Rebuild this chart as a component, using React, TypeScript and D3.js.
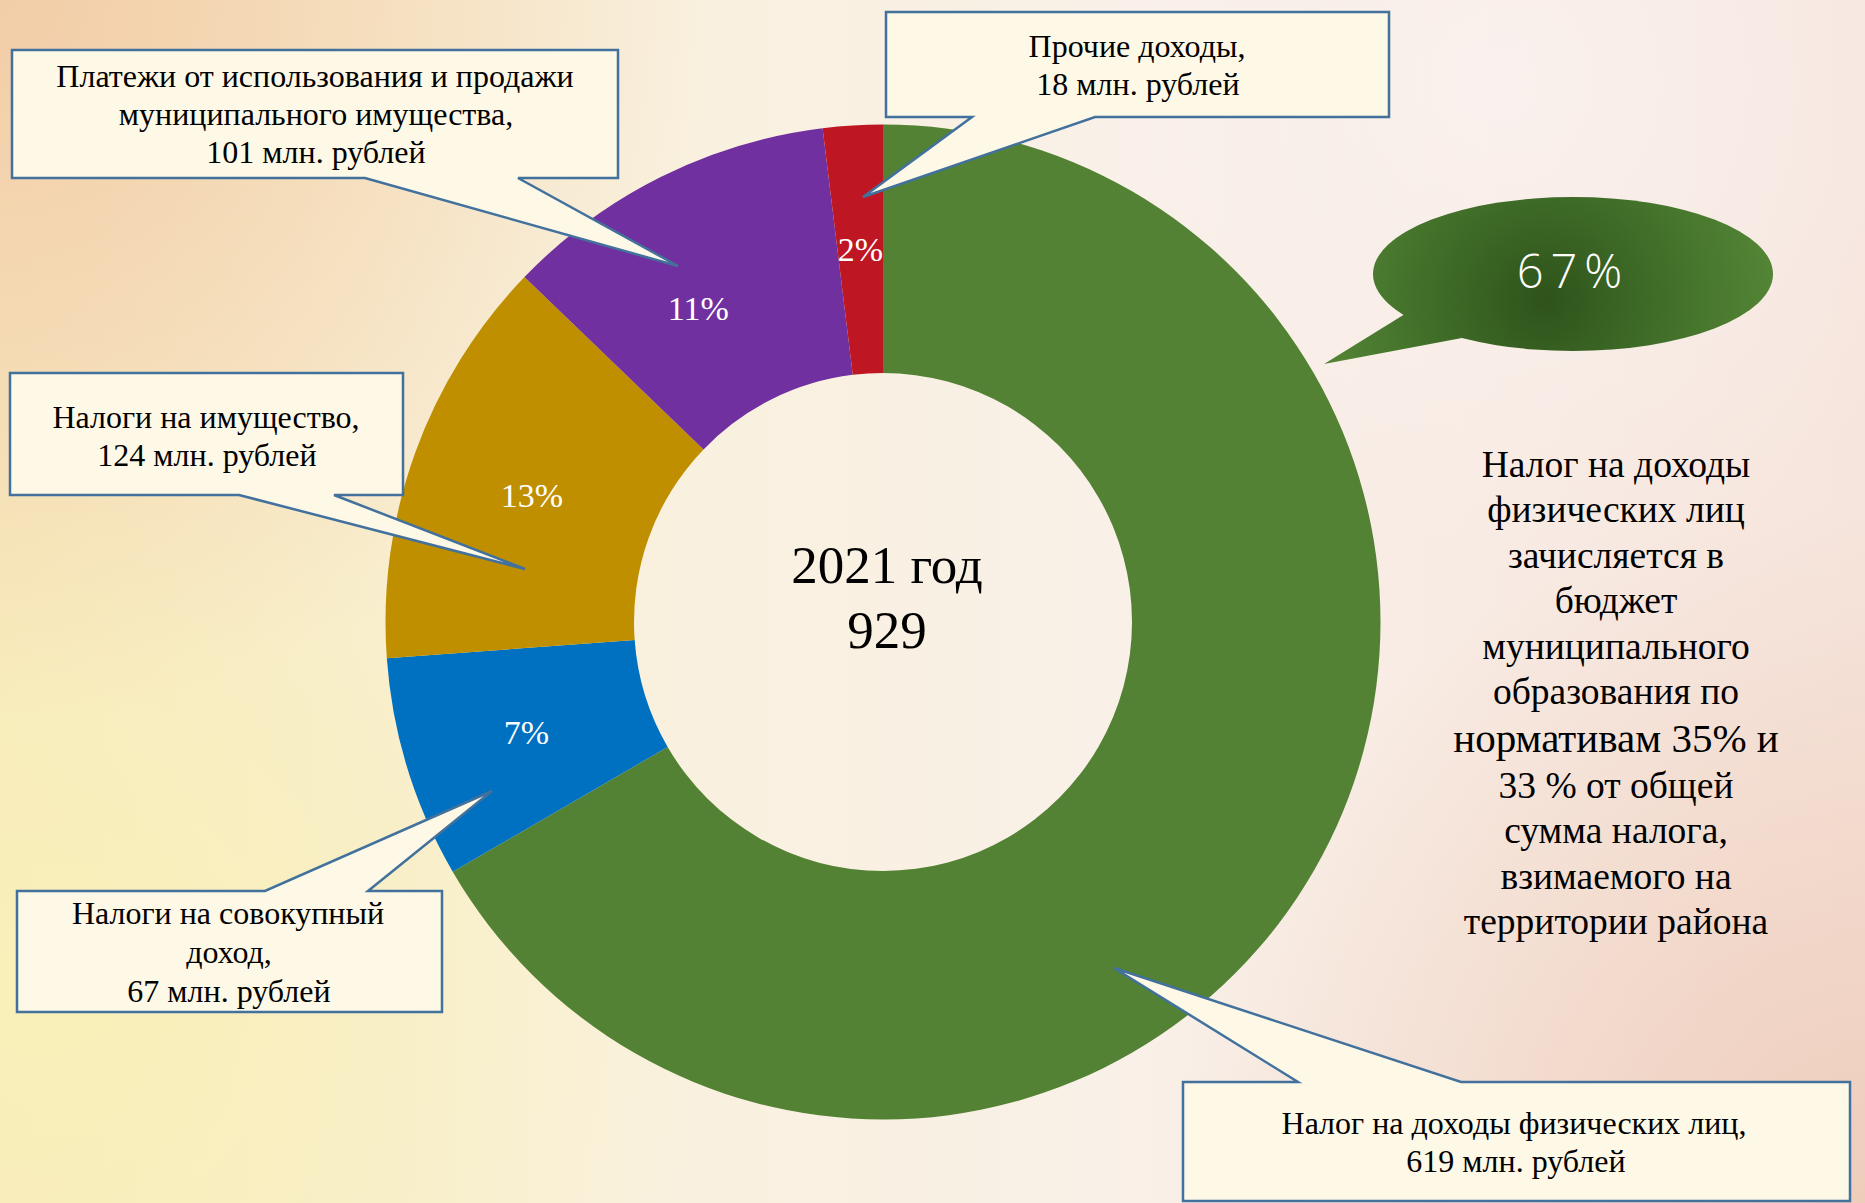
import React from "react";
import * as d3 from "d3";

// ---------- data ----------
const categories = [
  "Налог на доходы физических лиц",
  "Налоги на совокупный доход",
  "Налоги на имущество",
  "Платежи от использования и продажи муниципального имущества",
  "Прочие доходы",
];
const values = [619, 67, 124, 101, 18];
const sliceColors = ["#548235", "#0070C0", "#BF8F00", "#7030A0", "#BE1622"];
const centerTitle = "2021 год";
const centerTotal = "929";
const calloutTexts = [
  ["Налог на доходы физических лиц,", "619 млн. рублей"],
  ["Налоги на совокупный", "доход,", "67 млн. рублей"],
  ["Налоги на имущество,", "124 млн. рублей"],
  ["Платежи от использования и продажи", "муниципального имущества,", "101 млн. рублей"],
  ["Прочие доходы,", "18 млн. рублей"],
];
const bubbleText = "67%";
const noteLines = [
  "Налог на доходы",
  "физических лиц",
  "зачисляется в",
  "бюджет",
  "муниципального",
  "образования по",
  "нормативам 35% и",
  "33 % от общей",
  "сумма налога,",
  "взимаемого на",
  "территории района",
];

// ---------- layout ----------
const W = 1865;
const H = 1203;
const CX = 883;
const CY = 622;
const R_OUT = 497.5;
const R_IN = 249;

type Box = {
  x0: number; y0: number; x1: number; y1: number;
  side: "top" | "bottom";
  b1: number; b2: number; tip: [number, number];
  lines: { x: number; y: number }[];
};
const boxes: Box[] = [
  { x0: 1183, y0: 1082, x1: 1850, y1: 1201, side: "top", b1: 1298, b2: 1461, tip: [1114, 968],
    lines: [{ x: 1514, y: 1134 }, { x: 1516, y: 1172 }] },
  { x0: 17, y0: 891, x1: 442, y1: 1012, side: "top", b1: 265, b2: 368, tip: [492, 791],
    lines: [{ x: 228, y: 924 }, { x: 229, y: 963 }, { x: 229, y: 1002 }] },
  { x0: 10, y0: 373, x1: 403, y1: 495, side: "bottom", b1: 239, b2: 334, tip: [525, 569],
    lines: [{ x: 206, y: 428 }, { x: 207, y: 466 }] },
  { x0: 12, y0: 50, x1: 618, y1: 178, side: "bottom", b1: 365, b2: 518, tip: [678, 266],
    lines: [{ x: 315, y: 87 }, { x: 316, y: 125 }, { x: 316, y: 163 }] },
  { x0: 886, y0: 12, x1: 1389, y1: 117, side: "bottom", b1: 972, b2: 1095, tip: [863, 197],
    lines: [{ x: 1137, y: 57 }, { x: 1138, y: 95 }] },
];
const labelNudge: [number, number][] = [[0, 0], [0, 0], [0, 0], [-18, 20], [0, 0]];

function calloutPath(b: Box): string {
  const [tx, ty] = b.tip;
  if (b.side === "bottom") {
    return `M${b.x0},${b.y0}H${b.x1}V${b.y1}H${b.b2}L${tx},${ty}L${b.b1},${b.y1}H${b.x0}Z`;
  }
  return `M${b.x0},${b.y0}H${b.b1}L${tx},${ty}L${b.b2},${b.y0}H${b.x1}V${b.y1}H${b.x0}Z`;
}

export default function App() {
  const total = d3.sum(values);
  const pie = d3
    .pie<number>()
    .sort(null)
    .value((d) => d)
    .startAngle(0)
    .endAngle(2 * Math.PI);
  const arcs = pie(values);
  const arc = d3.arc<d3.PieArcDatum<number>>().innerRadius(R_IN).outerRadius(R_OUT);
  const pct = (v: number) => `${Math.round((v / total) * 100)}%`;

  const serif = "'Liberation Serif', 'Times New Roman', serif";
  const noteY0 = 477;
  const noteStep = 45.4;

  return (
    <svg
      width={W}
      height={H}
      viewBox={`0 0 ${W} ${H}`}
      style={{ position: "fixed", left: 0, top: 0, display: "block" }}
    >
      <defs>
        <linearGradient id="bgBase" x1="0" y1="0" x2="1" y2="0">
          <stop offset="0" stopColor="#F7E9C0" />
          <stop offset="0.3" stopColor="#F9F1DC" />
          <stop offset="0.6" stopColor="#F9F0E8" />
          <stop offset="1" stopColor="#F6E5DD" />
        </linearGradient>
        <radialGradient id="bgTL" gradientUnits="userSpaceOnUse" cx="0" cy="0" r="720">
          <stop offset="0" stopColor="#F2CDA8" stopOpacity="1" />
          <stop offset="1" stopColor="#F2CDA8" stopOpacity="0" />
        </radialGradient>
        <radialGradient id="bgBL" gradientUnits="userSpaceOnUse" cx="60" cy="1000" r="650">
          <stop offset="0" stopColor="#F9F0B8" stopOpacity="0.95" />
          <stop offset="1" stopColor="#F9F0B8" stopOpacity="0" />
        </radialGradient>
        <radialGradient id="bgBR" gradientUnits="userSpaceOnUse" cx="1865" cy="1203" r="700">
          <stop offset="0" stopColor="#EECDBB" stopOpacity="1" />
          <stop offset="1" stopColor="#EECDBB" stopOpacity="0" />
        </radialGradient>
        <radialGradient id="bgTR" gradientUnits="userSpaceOnUse" cx="1500" cy="80" r="500">
          <stop offset="0" stopColor="#FAF1EE" stopOpacity="0.9" />
          <stop offset="1" stopColor="#FAF1EE" stopOpacity="0" />
        </radialGradient>
        <radialGradient id="bubbleGrad" gradientUnits="userSpaceOnUse" cx="1545" cy="300" r="230">
          <stop offset="0" stopColor="#2E531B" />
          <stop offset="0.55" stopColor="#42702A" />
          <stop offset="1" stopColor="#548535" />
        </radialGradient>
      </defs>

      {/* background */}
      <rect x={0} y={0} width={W} height={H} fill="url(#bgBase)" />
      <rect x={0} y={0} width={W} height={H} fill="url(#bgBL)" />
      <rect x={0} y={0} width={W} height={H} fill="url(#bgTL)" />
      <rect x={0} y={0} width={W} height={H} fill="url(#bgBR)" />
      <rect x={0} y={0} width={W} height={H} fill="url(#bgTR)" />

      {/* donut */}
      <g transform={`translate(${CX},${CY})`}>
        {arcs.map((a, i) => (
          <path key={categories[i]} d={arc(a) || ""} fill={sliceColors[i]} />
        ))}
        {arcs.map((a, i) => {
          // the largest share is shown in the speech bubble instead of on the ring
          if (values[i] / total > 0.5) return null;
          const [x, y] = arc.centroid(a);
          return (
            <text
              key={"l" + i}
              x={x + labelNudge[i][0]}
              y={y + labelNudge[i][1]}
              textAnchor="middle"
              dominantBaseline="central"
              fill="#FFFFFF"
              fontFamily={serif}
              fontSize={34}
            >
              {pct(values[i])}
            </text>
          );
        })}
        <text x={4} y={-39} textAnchor="middle" fontFamily={serif} fontSize={53} fill="#000">
          {centerTitle}
        </text>
        <text x={4} y={26} textAnchor="middle" fontFamily={serif} fontSize={53} fill="#000">
          {centerTotal}
        </text>
      </g>

      {/* callout boxes */}
      {boxes.map((b, i) => (
        <g key={"b" + i}>
          <path d={calloutPath(b)} fill="#FEF8E7" stroke="#41719C" strokeWidth={2.5} strokeLinejoin="miter" />
          {calloutTexts[i].map((t, j) => (
            <text
              key={j}
              x={b.lines[j].x}
              y={b.lines[j].y}
              textAnchor="middle"
              fontFamily={serif}
              fontSize={32}
              fill="#000"
            >
              {t}
            </text>
          ))}
        </g>
      ))}

      {/* 67% bubble */}
      <g>
        <path d="M1324,364L1405,314L1462,338Z" fill="url(#bubbleGrad)" />
        <ellipse cx={1573} cy={274} rx={200} ry={77} fill="url(#bubbleGrad)" />
        <text
          x={1573}
          y={288}
          textAnchor="middle"
          fill="#FFFFFF"
          fontFamily="'Open Sans', sans-serif"
          fontWeight={300}
          fontSize={47}
          letterSpacing={7}
        >
          {bubbleText}
        </text>
      </g>

      {/* note text */}
      {noteLines.map((t, i) => (
        <text
          key={"n" + i}
          x={1616}
          y={noteY0 + i * noteStep + (i >= 6 ? 3 : 0)}
          textAnchor="middle"
          fontFamily={serif}
          fontSize={i === 6 ? 41 : 37.5}
          fill="#000"
        >
          {t}
        </text>
      ))}
    </svg>
  );
}
